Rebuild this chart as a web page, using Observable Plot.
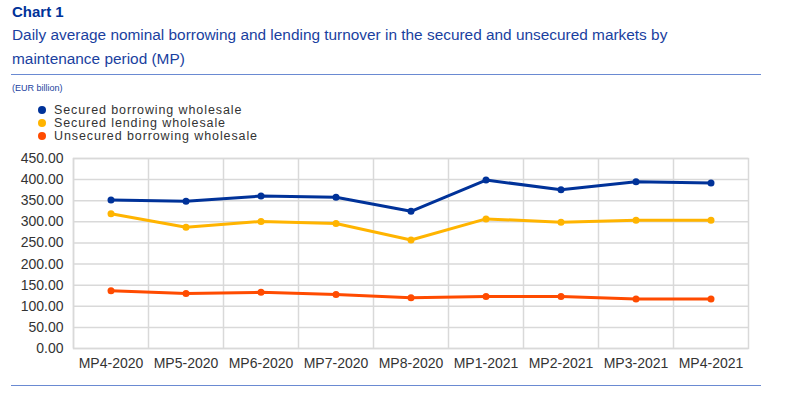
<!DOCTYPE html>
<html>
<head>
<meta charset="utf-8">
<script src="https://cdn.jsdelivr.net/npm/d3@7"></script>
<script src="https://cdn.jsdelivr.net/npm/@observablehq/plot@0.6"></script>
<style>
  html, body { margin: 0; padding: 0; background: #fff; }
  body { width: 800px; height: 396px; position: relative; overflow: hidden; font-family: "Liberation Sans", Arial, sans-serif; }
  #title { position: absolute; left: 12px; top: 3px; font-size: 15px; font-weight: bold; color: #003299; }
  #subtitle { position: absolute; left: 12px; top: 23px; width: 690px; font-size: 15.4px; line-height: 24px; color: #1a3fa0; }
  .rule { position: absolute; left: 11px; width: 750px; height: 0; border-top: 1.5px solid #6a8ad2; }
  #units { position: absolute; left: 12px; top: 83px; font-size: 9px; color: #1a3fa0; }
  #legend { position: absolute; left: 38px; top: 104px; font-size: 12.5px; color: #333; letter-spacing: 0.9px; }
  .li { height: 13px; line-height: 13px; display: flex; align-items: center; white-space: nowrap; }
  .sw { width: 8px; height: 8px; border-radius: 50%; margin-right: 8px; position: relative; top: -1px; }
  #chart { position: absolute; left: 0; top: 148px; }
</style>
</head>
<body>
<div id="title">Chart 1</div>
<div id="subtitle">Daily average nominal borrowing and lending turnover in the secured and unsecured markets by maintenance period (MP)</div>
<div class="rule" style="top:74px"></div>
<div id="units">(EUR billion)</div>
<div id="legend"></div>
<div id="chart"></div>
<div class="rule" style="top:385px"></div>
<script>
const periods = ["MP4-2020","MP5-2020","MP6-2020","MP7-2020","MP8-2020","MP1-2021","MP2-2021","MP3-2021","MP4-2021"];
const seriesNames = ["Secured borrowing wholesale","Secured lending wholesale","Unsecured borrowing wholesale"];
const seriesColors = ["#003299","#FFB400","#FF4B00"];
const securedBorrowing = [352, 349, 361, 358, 325, 399, 376, 395, 392];
const securedLending = [319, 287, 301, 296, 257, 307, 299, 304, 304];
const unsecuredBorrowing = [137, 130, 133, 128, 120, 123, 123, 117, 117];
const yTicks = [0, 50, 100, 150, 200, 250, 300, 350, 400, 450];

const allSeries = [securedBorrowing, securedLending, unsecuredBorrowing];
const data = [];
allSeries.forEach((vals, s) => vals.forEach((v, i) => data.push({period: periods[i], value: v, series: seriesNames[s]})));

// legend
const leg = document.getElementById("legend");
seriesNames.forEach((n, i) => {
  const d = document.createElement("div");
  d.className = "li";
  d.innerHTML = `<span class="sw" style="background:${seriesColors[i]}"></span><span>${n}</span>`;
  leg.appendChild(d);
});

const W = 800, ml = 73, mr = 52;
const bw = (W - ml - mr) / periods.length;
const grid = "#d9d9d9";

const chart = Plot.plot({
  width: W,
  height: 230,
  marginLeft: ml,
  marginRight: mr,
  marginTop: 10,
  marginBottom: 30,
  style: {fontFamily: "'Liberation Sans', Arial, sans-serif", fontSize: "14px", color: "#333", background: "#fff"},
  x: {type: "band", domain: periods, padding: 0, label: null, tickSize: 0, tickPadding: 10},
  y: {domain: [0, 450], ticks: yTicks, tickFormat: d => d.toFixed(2), label: null, tickSize: 0, tickPadding: 10},
  color: {domain: seriesNames, range: seriesColors},
  marks: [
    Plot.gridY(yTicks, {stroke: grid, strokeOpacity: 1, strokeWidth: 1.5}),
    Plot.ruleX(periods, {x: d => d, dx: -bw / 2, stroke: grid, strokeWidth: 1.5}),
    Plot.frame({stroke: grid, strokeWidth: 1.5}),
    Plot.line(data, {x: "period", y: "value", z: "series", stroke: "series", strokeWidth: 3}),
    Plot.dot(data, {x: "period", y: "value", fill: "series", r: 3.5})
  ]
});
document.getElementById("chart").appendChild(chart);
</script>
</body>
</html>
